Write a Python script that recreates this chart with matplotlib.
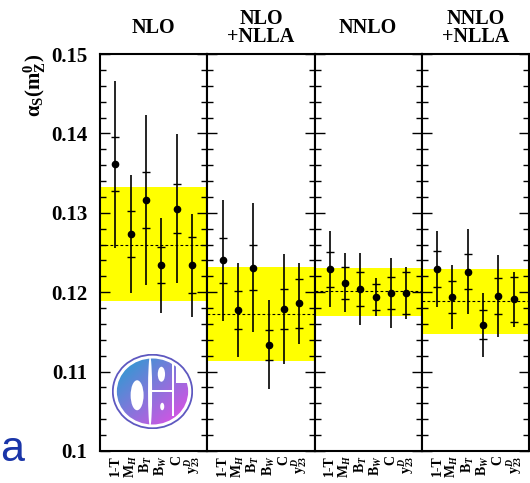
# Porownanie alpha_s z roznych obserwabli - cztery panele (NLO ... NNLO+NLLA)

import numpy as np
import matplotlib
matplotlib.use('Agg')
import matplotlib.pyplot as plt
from matplotlib.patches import Ellipse, Rectangle

plt.rcParams['font.family'] = 'Liberation Serif'
plt.rcParams['font.weight'] = 'bold'
plt.rcParams['mathtext.fontset'] = 'custom'
plt.rcParams['mathtext.rm'] = 'Liberation Serif:bold'
plt.rcParams['mathtext.it'] = 'Liberation Serif:bold:italic'
plt.rcParams['mathtext.bf'] = 'Liberation Serif:bold'

obserwable = [r'1-T', r'$\mathrm{M}_{H}$', r'$\mathrm{B}_{T}$', r'$\mathrm{B}_{W}$',
              r'C', r'$\mathrm{y}_{23}^{D}$']
tytuly = ['NLO', 'NLO\n+NLLA', 'NNLO', 'NNLO\n+NLLA']

# wartosci centralne
as_nlo = [0.1361, 0.1273, 0.1316, 0.1234, 0.1305, 0.1234]
as_nlo_nlla = [0.1240, 0.1178, 0.1231, 0.1134, 0.1179, 0.1186]
as_nnlo = [0.1229, 0.1212, 0.1204, 0.1194, 0.1199, 0.1199]
as_nnlo_nlla = [0.1229, 0.1194, 0.1226, 0.1159, 0.1195, 0.1191]

# bledy calkowite (zewnetrzne)
err_nlo = [0.0105, 0.0074, 0.0107, 0.0060, 0.0094, 0.0065]
err_nlo_nlla = [0.0076, 0.0059, 0.0081, 0.0056, 0.0069, 0.0051]
err_nnlo = [0.0048, 0.0037, 0.0045, 0.0024, 0.0044, 0.0033]
err_nnlo_nlla = [0.0048, 0.0040, 0.0053, 0.0040, 0.0052, 0.0035]

# bledy wewnetrzne (znaczniki na slupkach)
exp_nlo = [0.0034, 0.0029, 0.0035, 0.0023, 0.0031, 0.0035]
exp_nlo_nlla = [0.0028, 0.0024, 0.0028, 0.0019, 0.0025, 0.0031]
exp_nnlo = [0.0022, 0.0020, 0.0021, 0.0016, 0.0020, 0.0027]
exp_nnlo_nlla = [0.0023, 0.0020, 0.0022, 0.0018, 0.0023, 0.0028]

# srednia i pasmo bledu
srednia = [0.1260, 0.1173, 0.1201, 0.1189]
pasmo_dol = [0.1189, 0.1113, 0.1170, 0.1147]
pasmo_gora = [0.1332, 0.1232, 0.1231, 0.1229]

wartosci = [as_nlo, as_nlo_nlla, as_nnlo, as_nnlo_nlla]
bledy = [err_nlo, err_nlo_nlla, err_nnlo, err_nnlo_nlla]
bledy_exp = [exp_nlo, exp_nlo_nlla, exp_nnlo, exp_nnlo_nlla]

W, H = 530, 483
fig = plt.figure(figsize=(W / 100, H / 100), dpi=100)

szer = 107.25
x = np.arange(1, 7)
for i in range(4):
    ax = fig.add_axes([(100 + i * szer) / W, 32 / H, szer / W, 397 / H])
    ax.set_xlim(0, 7)
    ax.set_ylim(0.1, 0.15)

    ax.axhspan(pasmo_dol[i], pasmo_gora[i], color='#ffff00', lw=0, zorder=1)
    ax.axhline(srednia[i], color='black', ls=(0, (2.5, 2)), lw=0.8, zorder=2)

    v = np.array(wartosci[i])
    ax.errorbar(x, v, yerr=bledy[i], fmt='o', color='black', ms=4.5,
                elinewidth=1.2, capsize=0, zorder=4)
    e = np.array(bledy_exp[i])
    ax.plot(x, v + e, ls='none', marker='_', ms=6, mew=1.0, color='black', zorder=4)
    ax.plot(x, v - e, ls='none', marker='_', ms=6, mew=1.0, color='black', zorder=4)

    ax.set_xticks(x)
    ax.set_xticklabels(obserwable, rotation=90, fontsize=10, fontweight='bold')
    ax.tick_params(axis='x', length=0, pad=3)
    ax.set_yticks(np.arange(0.10, 0.151, 0.01))
    ax.set_yticks(np.arange(0.10, 0.151, 0.002), minor=True)
    ax.tick_params(axis='y', which='major', direction='in', length=7, width=1.0,
                   left=True, right=True)
    ax.tick_params(axis='y', which='minor', direction='in', length=4, width=1.0,
                   left=True, right=True)
    if i == 0:
        ax.set_yticklabels(['0.1', '0.11', '0.12', '0.13', '0.14', '0.15'],
                           fontsize=15, fontweight='bold')
        ax.tick_params(axis='y', which='major', pad=9)
    else:
        ax.set_yticklabels([])
    for s in ax.spines.values():
        s.set_linewidth(1.5)

    fig.text((100 + (i + 0.5) * szer) / W, 1 - 28 / H, tytuly[i], ha='center',
             va='center', fontsize=14.5, fontweight='bold', linespacing=0.85)

fig.text(35 / W, 1 - 85 / H, r'$\mathrm{\alpha_S(m_Z^0)}$', rotation=90,
         ha='center', va='center', fontsize=15)

fig.text(0 / W, 1 - 450 / H, 'a', family='Liberation Sans', fontweight='normal',
         fontsize=31, color='#1a35a8', ha='left', va='center')

# logo OPAL (przyblizone)
lx = fig.add_axes([112 / W, (H - 429) / H, 81 / W, 75 / H])
lx.set_xlim(0, 1)
lx.set_ylim(0, 1)
lx.axis('off')
gx, gy = np.meshgrid(np.linspace(0, 1, 100), np.linspace(1, 0, 100))
t = np.clip(0.6 * gx + 0.6 * (1 - gy) - 0.1, 0, 1)
c0 = np.array([0.15, 0.62, 0.82])
c1 = np.array([0.90, 0.30, 0.90])
grad = c0[None, None, :] * (1 - t[..., None]) + c1[None, None, :] * t[..., None]
dysk = Ellipse((0.5, 0.5), 0.88, 0.88, transform=lx.transData)
im = lx.imshow(grad, extent=[0, 1, 0, 1], origin='upper', aspect='auto', zorder=1)
im.set_clip_path(dysk)

biale = [
    Ellipse((0.31, 0.45), 0.16, 0.40),          # dziura w O
    Ellipse((0.47, 0.50), 0.05, 0.95),          # przerwa O | P,A
    Ellipse((0.61, 0.73), 0.09, 0.20),          # dziura w P
    Rectangle((0.49, 0.49), 0.26, 0.035),       # przerwa P / A
    Ellipse((0.62, 0.30), 0.05, 0.10),          # dziura w A
    Rectangle((0.735, 0.18), 0.03, 0.75),       # przerwa A | L
    Rectangle((0.79, 0.62), 0.25, 0.40),        # nad L
    Rectangle((0.0, 0.0), 0.2, 0.12),
]
for p in biale:
    p.set_facecolor('white')
    p.set_edgecolor('none')
    p.set_zorder(2)
    lx.add_patch(p)
lx.add_patch(Ellipse((0.5, 0.5), 0.98, 0.98, fc='none', ec='#5e58c0', lw=1.3, zorder=3))

fig.savefig('out.png', dpi=100)
